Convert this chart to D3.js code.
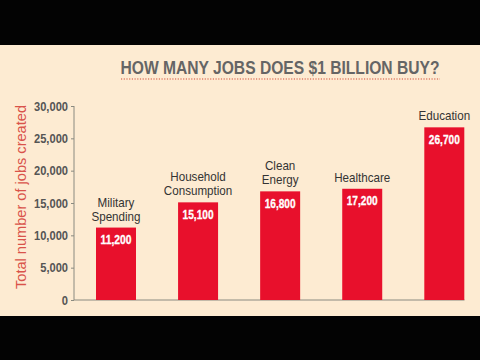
<!DOCTYPE html>
<html><head><meta charset="utf-8">
<script src="https://cdn.jsdelivr.net/npm/d3@7"></script>
<style>html,body{margin:0;padding:0;background:#000;}svg{display:block;}</style>
</head><body>
<script>
const categories = [["Military","Spending"],["Household","Consumption"],["Clean","Energy"],["Healthcare"],["Education"]];
const jobs = [11200, 15100, 16800, 17200, 26700];
const valueLabels = ["11,200","15,100","16,800","17,200","26,700"];
const yTicks = [0,5000,10000,15000,20000,25000,30000];
const title = "HOW MANY JOBS DOES $1 BILLION BUY?";
const yTitle = "Total number of jobs created";

const W = 480, H = 360;
const svg = d3.select("body").append("svg").attr("width", W).attr("height", H);
svg.append("rect").attr("x",0).attr("y",0).attr("width",W).attr("height",H).attr("fill","#030303");
svg.append("rect").attr("x",0).attr("y",45).attr("width",W).attr("height",271).attr("fill","#fdebd2");

const font = "'Liberation Sans','Arial',sans-serif";

// squeeze a text to a fraction of its natural width (condensed look)
function squeeze(sel, f){
  sel.each(function(){
    const n = this.getComputedTextLength();
    d3.select(this).attr("textLength", n*f).attr("lengthAdjust","spacingAndGlyphs");
  });
}

const y = d3.scaleLinear().domain([0,30000]).range([300,106]);
const keys = categories.map(c => c.join(" "));
const x = d3.scaleBand().domain(keys).range([96,464.3]).paddingInner(0.5127).paddingOuter(0);

// title
svg.append("text").attr("x",280).attr("y",74).attr("text-anchor","middle")
  .attr("font-family",font).attr("font-weight","bold").attr("font-size",19)
  .attr("fill","#656565").attr("textLength",319).attr("lengthAdjust","spacingAndGlyphs").text(title);
svg.append("line").attr("x1",121).attr("x2",440).attr("y1",79).attr("y2",79)
  .attr("stroke","#e0806a").attr("stroke-width",1.4).attr("stroke-dasharray","1.2,1.5");

// y axis
const yAxis = d3.axisLeft(y).tickValues(yTicks).tickSize(3).tickFormat(d3.format(","));
const gy = svg.append("g").attr("transform","translate(74,0)").call(yAxis);
gy.select(".domain").attr("stroke","#8a8a80").attr("d","M0,106V300");
gy.selectAll(".tick line").attr("stroke","#8a8a80");
gy.selectAll(".tick text").attr("x",-6).attr("font-family",font).attr("font-weight","bold")
  .attr("font-size",13).attr("fill","#555")
  .each(function(){
    const s = this.textContent;
    const commas = (s.match(/,/g)||[]).length;
    d3.select(this).attr("textLength", (s.length-commas)*6.2 + commas*3).attr("lengthAdjust","spacingAndGlyphs");
  });

// baseline
svg.append("line").attr("x1",74).attr("x2",464.5).attr("y1",y(0)).attr("y2",y(0))
  .attr("stroke","#8a8a80").attr("stroke-width",1);

// y title
svg.append("text").attr("transform","translate(26,197) rotate(-90)").attr("text-anchor","middle")
  .attr("font-family",font).attr("font-size",15).attr("fill","#d9534a")
  .attr("textLength",184).attr("lengthAdjust","spacingAndGlyphs").text(yTitle);

// bars
const bars = svg.append("g");
bars.selectAll("rect").data(jobs).join("rect")
  .attr("x",(d,i)=>x(keys[i])).attr("width",x.bandwidth())
  .attr("y",d=>y(d)).attr("height",d=>y(0)-y(d)).attr("fill","#e8102c");

bars.selectAll("text.val").data(jobs).join("text").attr("class","val")
  .attr("x",(d,i)=>x(keys[i])+x.bandwidth()/2).attr("y",d=>y(d)+16.5)
  .attr("text-anchor","middle").attr("font-family",font).attr("font-weight","bold")
  .attr("font-size",13).attr("fill","#fff").attr("stroke","#fff").attr("stroke-width",0.3)
  .attr("textLength",31).attr("lengthAdjust","spacingAndGlyphs")
  .text((d,i)=>valueLabels[i]);

// category labels
categories.forEach((lines,i)=>{
  const cx = x(keys[i]) + x.bandwidth()/2;
  const base = y(jobs[i]) - 7;
  lines.forEach((ln,j)=>{
    svg.append("text").attr("x",cx).attr("y",base - (lines.length-1-j)*14)
      .attr("text-anchor","middle").attr("font-family",font).attr("font-size",13.5)
      .attr("fill","#333").text(ln).call(squeeze, 0.86);
  });
});
</script>
</body></html>
